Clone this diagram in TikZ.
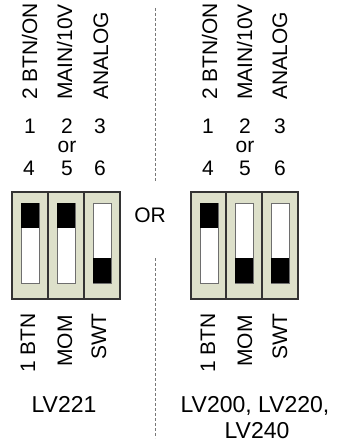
\documentclass[tikz,border=0pt]{standalone}
\usepackage{fontspec}
\setmainfont{Liberation Sans}
\definecolor{boxfill}{RGB}{221,224,202}
\definecolor{dashgray}{RGB}{120,120,120}
\definecolor{slotedge}{RGB}{110,110,110}
\begin{document}
\begin{tikzpicture}[x=1pt,y=-1pt,
  txt/.style={inner sep=0pt,font=\fontsize{21}{24}\selectfont},
  big/.style={inner sep=0pt,anchor=base,font=\fontsize{23}{26}\selectfont},
  vtop/.style={txt,rotate=90,anchor=base west},
  vbot/.style={txt,rotate=90,anchor=base east},
  num/.style={txt,anchor=base},
  panel/.style={draw=black!80,line width=1.3pt,fill=boxfill},
  slot/.style={draw=slotedge,line width=1pt,fill=white},
  knob/.style={fill=black},
  sep/.style={draw=dashgray,line width=1pt,dash pattern=on 3pt off 2pt}]
\useasboundingbox (0,0) rectangle (337,444);
% separator
\coordinate (s1) at (155,8);
\coordinate (s2) at (155,182);
\coordinate (s3) at (155,258);
\coordinate (s4) at (155,438);
\draw[sep] (s1) -- (s2);
\draw[sep] (s3) -- (s4);
% top labels
\node[vtop] (l1) at (37,100) {2 BTN/ON};
\node[vtop] (l2) at (72,100) {MAIN/10V};
\node[vtop] (l3) at (108,100) {ANALOG};
\node[vtop] (r1) at (217,100) {2 BTN/ON};
\node[vtop] (r2) at (252,100) {MAIN/10V};
\node[vtop] (r3) at (287,100) {ANALOG};
% numbers
\node[num] (n1) at (30,133) {1};
\node[num] (n2) at (67,133) {2};
\node[num] (n3) at (100,133) {3};
\node[num] (nor) at (67,152) {or};
\node[num] (n4) at (29,175) {4};
\node[num] (n5) at (67,175) {5};
\node[num] (n6) at (100,175) {6};
\node[num] (m1) at (208,133) {1};
\node[num] (m2) at (245,133) {2};
\node[num] (m3) at (280,133) {3};
\node[num] (mor) at (245,152) {or};
\node[num] (m4) at (208,175) {4};
\node[num] (m5) at (245,175) {5};
\node[num] (m6) at (280,175) {6};
% left panel
\draw[panel] (12,192) rectangle (48,299);
\draw[panel] (48,192) rectangle (84,299);
\draw[panel] (84,192) rectangle (120,299);
\draw[slot] (21,203) rectangle (39,283);
\draw[slot] (57,203) rectangle (75,283);
\draw[slot] (93,203) rectangle (111,283);
\fill[knob] (21,203) rectangle (39,228);
\fill[knob] (57,203) rectangle (75,228);
\fill[knob] (93,258) rectangle (111,283);
% right panel
\draw[panel] (191,192) rectangle (226,299);
\draw[panel] (226,192) rectangle (262,299);
\draw[panel] (262,192) rectangle (298,299);
\draw[slot] (200,203) rectangle (218,283);
\draw[slot] (235,203) rectangle (253,283);
\draw[slot] (271,203) rectangle (289,283);
\fill[knob] (200,203) rectangle (218,228);
\fill[knob] (235,258) rectangle (253,283);
\fill[knob] (271,258) rectangle (289,283);
% OR
\node[num] (or) at (150,222) {OR};
% bottom labels
\node[vbot] (b1) at (35,313) {1 BTN};
\node[vbot] (b2) at (72,315) {MOM};
\node[vbot] (b3) at (106,313) {SWT};
\node[vbot] (c1) at (215,313) {1 BTN};
\node[vbot] (c2) at (252,315) {MOM};
\node[vbot] (c3) at (287,313) {SWT};
% model names
\node[big] (lv1) at (64,412) {LV221};
\node[big] (lv2) at (255,412) {LV200, LV220,};
\node[big] (lv3) at (257,438) {LV240};
\end{tikzpicture}
\end{document}
